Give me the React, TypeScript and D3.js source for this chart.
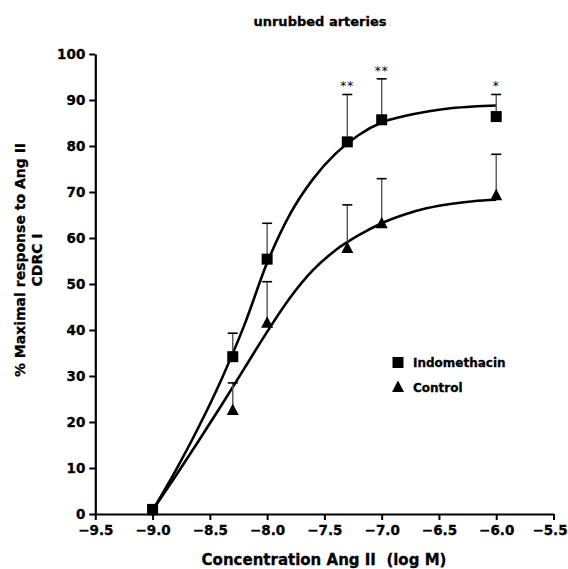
import React, { useEffect, useRef } from "react";
import * as d3 from "d3";

// concentrations (log M) and means
const doses = [-9.0, -8.3, -8.0, -7.3, -7.0, -6.0];
const indoMean = [1.0, 34.2, 55.4, 80.9, 85.7, 86.4];
const indoUpper = [null, 39.3, 63.2, 91.2, 94.6, 91.2];
const ctrlMean = [0.8, 22.6, 41.6, 57.8, 63.2, 69.3];
const ctrlUpper = [null, 28.5, 50.5, 67.2, 72.9, 78.2];

// fitted curves, every 0.2 log units
const curveX = [-9.0, -8.8, -8.6, -8.4, -8.2, -8.0, -7.8, -7.6, -7.4, -7.2, -7.0, -6.8, -6.6, -6.4, -6.2, -6.0];
const indoCurveY = [0.8, 9.4, 18.8, 29.2, 41.0, 54.6, 65.2, 72.8, 78.4, 82.4, 85.1, 86.5, 87.5, 88.2, 88.6, 88.8];
const ctrlCurveY = [0.8, 8.2, 15.8, 23.6, 31.6, 39.6, 47.0, 53.0, 57.4, 60.6, 63.2, 65.1, 66.5, 67.4, 68.0, 68.3];

// significance marks
const starDoses = [-7.3, -7.0, -6.0];
const starLabels = ["**", "**", "*"];

const xTicks = [-9.5, -9.0, -8.5, -8.0, -7.5, -7.0, -6.5, -6.0, -5.5];
const yTicks = [0, 10, 20, 30, 40, 50, 60, 70, 80, 90, 100];

const FONT = "'DejaVu Sans', Verdana, sans-serif";

const App = () => {
    const svgRef = useRef(null);

    useEffect(() => {
        const width = 568;
        const height = 569;
        const svg = d3.select(svgRef.current).attr("width", width).attr("height", height);
        svg.selectAll("*").remove();

        const x = d3.scaleLinear().domain([-9.5, -5.5]).range([95.3, 553.5]);
        const y = d3.scaleLinear().domain([0, 100]).range([514, 54]);

        const g = svg.append("g");

        const boldText = (sel, size) =>
            sel.style("font-family", FONT)
                .style("font-weight", "bold")
                .style("font-size", size + "px")
                .attr("fill", "black")
                .attr("stroke", "black")
                .attr("stroke-width", 0.3);

        // title
        g.append("text")
            .attr("x", 320)
            .attr("y", 26)
            .attr("text-anchor", "middle")
            .call(boldText, 13)
            .text("unrubbed arteries");

        // axes
        const xAxis = g.append("g").attr("transform", `translate(0,${y(0)})`)
            .call(d3.axisBottom(x).tickValues(xTicks).tickFormat(d3.format(".1f")).tickSize(6).tickSizeOuter(0));
        const yAxis = g.append("g").attr("transform", `translate(${x(-9.5)},0)`)
            .call(d3.axisLeft(y).tickValues(yTicks).tickFormat(d3.format("d")).tickSize(6).tickSizeOuter(0));

        [xAxis, yAxis].forEach((ax) => {
            ax.select(".domain").attr("stroke", "black").attr("stroke-width", 2.2);
            ax.selectAll(".tick line").attr("stroke", "black").attr("stroke-width", 2);
            ax.selectAll(".tick text").call(boldText, 13.5);
        });
        xAxis.selectAll(".tick text").attr("y", 11.5);
        // last label sits against the right edge
        xAxis.selectAll(".tick text").filter((d) => d === -5.5).attr("dx", -4);
        yAxis.selectAll(".tick text").attr("x", -10);

        // axis titles
        g.append("text")
            .attr("x", 324)
            .attr("y", 565)
            .attr("text-anchor", "middle")
            .call(boldText, 15)
            .attr("xml:space", "preserve")
            .text("Concentration Ang II  (log M)");

        const yl = g.append("text")
            .attr("transform", "translate(0,260) rotate(-90)")
            .attr("text-anchor", "middle")
            .call(boldText, 14);
        yl.append("tspan").attr("x", 0).attr("y", 25).text("% Maximal response to Ang II");
        yl.append("tspan").attr("x", 0).attr("y", 42).text("CDRC I");

        // curves
        const line = d3.line().x((d) => x(d[0])).y((d) => y(d[1])).curve(d3.curveMonotoneX);
        [indoCurveY, ctrlCurveY].forEach((cy) => {
            g.append("path")
                .datum(curveX.map((v, i) => [v, cy[i]]))
                .attr("d", line)
                .attr("fill", "none")
                .attr("stroke", "black")
                .attr("stroke-width", 2.6);
        });

        // error bars (upper only)
        const drawErr = (means, uppers) => {
            doses.forEach((d, i) => {
                const u = uppers[i];
                if (u == null) return;
                g.append("line")
                    .attr("x1", x(d)).attr("x2", x(d))
                    .attr("y1", y(means[i])).attr("y2", y(u))
                    .attr("stroke", "#555").attr("stroke-width", 1.4);
                g.append("line")
                    .attr("x1", x(d) - 5).attr("x2", x(d) + 5)
                    .attr("y1", y(u)).attr("y2", y(u))
                    .attr("stroke", "black").attr("stroke-width", 1.6);
            });
        };
        drawErr(ctrlMean, ctrlUpper);
        drawErr(indoMean, indoUpper);

        // markers
        const tri = "M0,-6.5L6,5L-6,5Z";
        g.selectAll(".ctrl")
            .data(doses)
            .join("path")
            .attr("class", "ctrl")
            .attr("d", tri)
            .attr("transform", (d, i) => `translate(${x(d)},${y(ctrlMean[i])})`)
            .attr("fill", "black");
        g.selectAll(".indo")
            .data(doses)
            .join("rect")
            .attr("class", "indo")
            .attr("x", (d) => x(d) - 5.5)
            .attr("y", (d, i) => y(indoMean[i]) - 5.5)
            .attr("width", 11)
            .attr("height", 11)
            .attr("fill", "black");

        // stars
        starDoses.forEach((d, i) => {
            const k = doses.indexOf(d);
            g.append("text")
                .attr("x", x(d))
                .attr("y", y(indoUpper[k]) - 4)
                .attr("text-anchor", "middle")
                .attr("fill", "black")
                .style("font-family", FONT)
                .style("font-size", "12px")
                .style("letter-spacing", "1px")
                .text(starLabels[i]);
        });

        // legend
        const legend = g.append("g");
        legend.append("rect").attr("x", 392.5).attr("y", 357).attr("width", 11).attr("height", 11).attr("fill", "black");
        legend.append("path").attr("d", tri).attr("transform", "translate(398,387)").attr("fill", "black");
        [["Indomethacin", 367], ["Control", 391.5]].forEach(([t, ty]) => {
            legend.append("text")
                .attr("x", 413)
                .attr("y", ty)
                .call(boldText, 12)
                .text(t);
        });
    }, []);

    return (
        <div style={{ position: "fixed", left: 0, top: 0 }}>
            <svg ref={svgRef} style={{ display: "block", background: "white" }}></svg>
        </div>
    );
};

export default App;
